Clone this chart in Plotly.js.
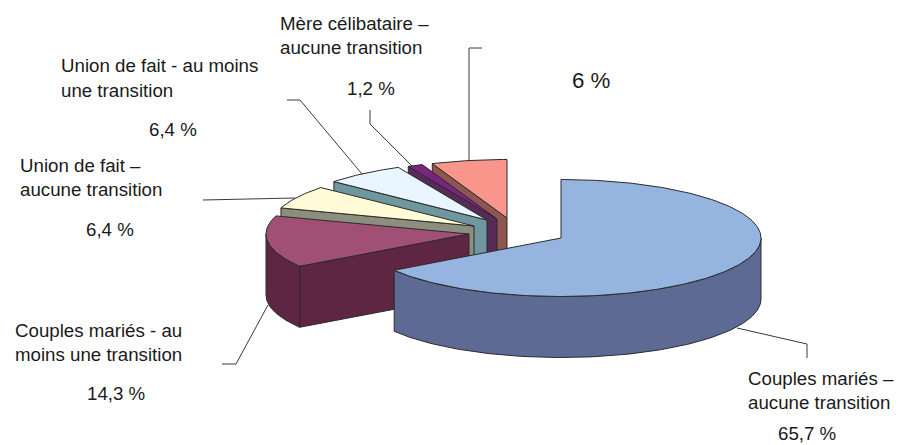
<!DOCTYPE html>
<html><head><meta charset="utf-8">
<script src="https://cdn.plot.ly/plotly-3.0.1.min.js"></script>
<style>html,body{margin:0;padding:0;background:#fff}</style>
</head><body><div id="c" style="width:907px;height:445px"></div>
<script>
const categories = ["Couples mariés – aucune transition","Couples mariés - au moins une transition","Union de fait – aucune transition","Union de fait - au moins une transition","Mère célibataire – aucune transition","Autre"];
const values = [65.7,14.3,6.4,6.4,1.2,6];
const valueLabels = ["65,7 %","14,3 %","6,4 %","6,4 %","1,2 %","6 %"];
const topColors = ["#95B4DF","#A04F75","#FFFBD6","#EAF6FF","#7A2480","#F8968C"];
const wallColors = ["#5C6A94","#5E2642","#8C8F7E","#6F979E","#562B58","#8E5551"];
// exploded centres of each slice (3D projection layout)
const centers = [[561,238],[469,234],[474,226],[487,220],[497,219],[507,218]];
const radiiX = [200,203,203,203,203,203], radiusY = 58.5, depth = 61;

const rad = d => d*Math.PI/180;
function pt(i,a,dy){return [centers[i][0]+radiiX[i]*Math.sin(rad(a)), centers[i][1]-radiusY*Math.cos(rad(a))+(dy||0)];}
function poly(points,fill){return {type:'scatter',mode:'lines',x:points.map(p=>p[0]),y:points.map(p=>p[1]),fill:'toself',fillcolor:fill,line:{color:'#2b2b2b',width:1},hoverinfo:'skip',showlegend:false};}
function arc(i,a0,a1,dy){const n=Math.max(2,Math.ceil(Math.abs(a1-a0)));const r=[];for(let k=0;k<=n;k++)r.push(pt(i,a0+(a1-a0)*k/n,dy));return r;}

const spans=[];let acc=0;values.forEach(v=>{spans.push([acc*3.6,(acc+v)*3.6]);acc+=v;});
const traces=[];
for(const i of [5,4,3,2,1,0]){
  const [s,e]=spans[i];
  const c=centers[i];
  if(s>=180){
    const p=pt(i,s);
    traces.push(poly([c,p,[p[0],p[1]+depth],[c[0],c[1]+depth],c],wallColors[i]));
  }
  const r0=Math.max(s,90), r1=Math.min(e,270);
  if(r1>r0){
    const top=arc(i,r0,r1,0), bot=arc(i,r1,r0,depth);
    traces.push(poly(top.concat(bot,[top[0]]),wallColors[i]));
  }
  traces.push(poly([c].concat(arc(i,s,e,0),[c]),topColors[i]));
}

const font=sz=>({family:'"Liberation Sans",Arial,sans-serif',size:sz,color:'#1a1a1a'});
const L=(x,y,t)=>({x,y,text:t,xref:'x',yref:'y',xanchor:'left',yanchor:'middle',showarrow:false,font:font(18.7)});
const C=(x,y,t,sz)=>({x,y,text:t,xref:'x',yref:'y',xanchor:'center',yanchor:'middle',showarrow:false,borderpad:0,font:font(sz||18.7)});
const annotations=[
 L(278,23,"Mère célibataire –"),L(278,47,"aucune transition"),C(371,88,valueLabels[4]),
 L(59,65,"Union de fait - au moins"),L(59,90,"une transition"),C(173,129,valueLabels[3]),
 L(18,165,"Union de fait –"),L(18,189,"aucune transition"),C(110,229,valueLabels[2]),
 L(13,330,"Couples mariés - au"),L(13,354,"moins une transition"),C(116,393,valueLabels[1]),
 L(746,378,"Couples mariés –"),L(746,402,"aucune transition"),C(807,433,valueLabels[0]),
 C(591,80,valueLabels[5],22.3)
];
const leader=d=>({type:'path',path:d,xref:'x',yref:'y',line:{color:'#3a3a3a',width:1},layer:'below'});
const shapes=[
 leader('M482,48L469,48L469,162'),
 leader('M370,110L370,124L412,166'),
 leader('M287,100L300,100L362,174'),
 leader('M203,200L295,198'),
 leader('M222,364L236,364L268,305'),
 leader('M737,328L807,344L807,358')
];
Plotly.newPlot('c',traces,{
 width:907,height:445,margin:{l:0,r:0,t:0,b:0},paper_bgcolor:'#fff',plot_bgcolor:'#fff',showlegend:false,
 xaxis:{range:[0,907],visible:false,fixedrange:true},
 yaxis:{range:[445,0],visible:false,fixedrange:true},
 annotations,shapes
},{displayModeBar:false,staticPlot:true});
</script></body></html>
